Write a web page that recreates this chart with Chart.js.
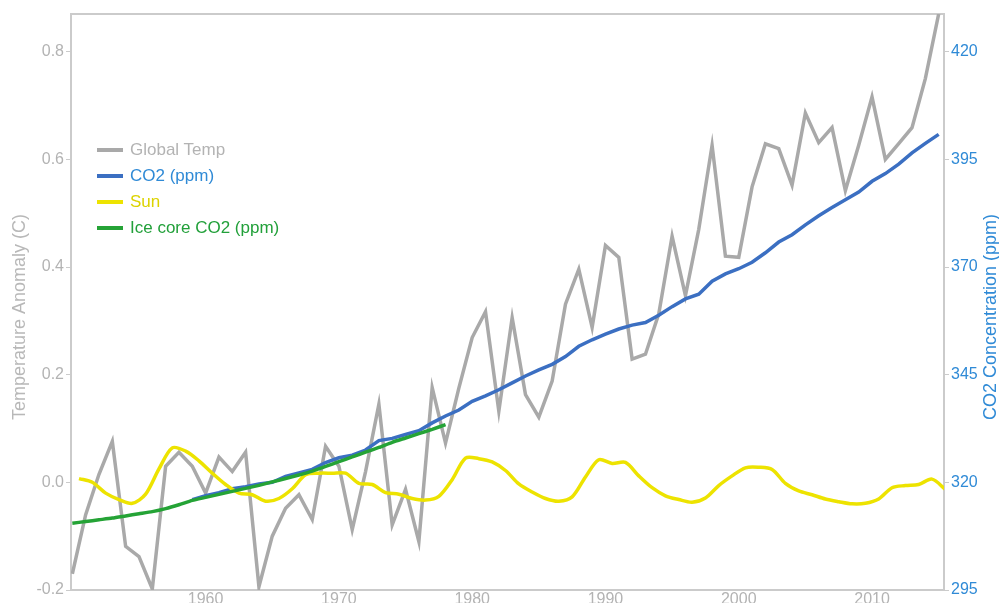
<!DOCTYPE html>
<html>
<head>
<meta charset="utf-8">
<script src="https://cdn.jsdelivr.net/npm/chart.js@4.4.1/dist/chart.umd.min.js"></script>
<style>
html,body{margin:0;padding:0;background:#fff;}
#wrap{position:relative;width:999px;height:603px;overflow:hidden;}
#legend{position:absolute;left:97px;top:137px;font-family:"Liberation Sans",Arial,Helvetica,sans-serif;font-size:17px;line-height:26px;}
.row{height:26px;display:flex;align-items:center;white-space:nowrap;}
.sw{width:26px;height:4px;margin-right:7px;}
</style>
</head>
<body>
<div id="wrap">
<canvas id="c" width="999" height="603"></canvas>
<div id="legend"></div>
</div>
<script>
// ---- data ----
const years = [1950,1951,1952,1953,1954,1955,1956,1957,1958,1959,
  1960,1961,1962,1963,1964,1965,1966,1967,1968,1969,
  1970,1971,1972,1973,1974,1975,1976,1977,1978,1979,
  1980,1981,1982,1983,1984,1985,1986,1987,1988,1989,
  1990,1991,1992,1993,1994,1995,1996,1997,1998,1999,
  2000,2001,2002,2003,2004,2005,2006,2007,2008,2009,
  2010,2011,2012,2013,2014,2015];

const globalTemp = [-0.17,-0.06,0.015,0.076,-0.119,-0.138,-0.198,0.03,0.056,0.03,
  -0.02,0.047,0.02,0.056,-0.194,-0.1,-0.048,-0.023,-0.069,0.067,
  0.03,-0.088,0.02,0.145,-0.079,-0.013,-0.11,0.176,0.073,0.175,
  0.269,0.317,0.132,0.306,0.163,0.121,0.188,0.331,0.396,0.288,
  0.44,0.418,0.229,0.238,0.313,0.457,0.347,0.47,0.626,0.42,
  0.418,0.549,0.629,0.62,0.552,0.686,0.631,0.659,0.542,0.626,
  0.716,0.6,0.629,0.659,0.75,0.87];

const co2 = [null,null,null,null,null,null,null,null,null,316.0,
  316.9,317.6,318.5,319.0,319.6,320.0,321.4,322.2,323.0,324.6,
  325.7,326.3,327.5,329.7,330.2,331.1,332.0,333.8,335.4,336.8,
  338.8,340.1,341.5,343.1,344.7,346.1,347.4,349.2,351.6,353.1,
  354.4,355.6,356.5,357.1,358.8,360.8,362.6,363.7,366.7,368.4,
  369.6,371.1,373.3,375.8,377.5,379.8,381.9,383.8,385.6,387.4,
  389.9,391.7,393.9,396.5,398.7,400.8];

const iceCore = [310.5,310.9,311.3,311.7,312.2,312.7,313.2,313.9,314.8,315.8,
  316.5,317.2,317.9,318.6,319.3,320.1,320.9,321.7,322.6,323.7,
  324.8,325.9,327.0,328.1,329.3,330.3,331.3,332.3,333.4];

const sunYears = [1950.5,1951.5,1952.5,1953.5,1954.5,1955.5,1956.5,1957.5,1958.5,1959.5,
  1960.5,1961.5,1962.5,1963.5,1964.5,1965.5,1966.5,1967.5,1968.5,1969.5,
  1970.5,1971.5,1972.5,1973.5,1974.5,1975.5,1976.5,1977.5,1978.5,1979.5,
  1980.5,1981.5,1982.5,1983.5,1984.5,1985.5,1986.5,1987.5,1988.5,1989.5,
  1990.5,1991.5,1992.5,1993.5,1994.5,1995.5,1996.5,1997.5,1998.5,1999.5,
  2000.5,2001.5,2002.5,2003.5,2004.5,2005.5,2006.5,2007.5,2008.5,2009.5,
  2010.5,2011.5,2012.5,2013.5,2014.5,2015.5];

const sun = [0.007,0.0,-0.02,-0.032,-0.039,-0.022,0.025,0.064,0.058,0.04,
  0.017,-0.004,-0.02,-0.023,-0.035,-0.03,-0.012,0.014,0.017,0.017,
  0.017,-0.002,-0.004,-0.019,-0.022,-0.03,-0.033,-0.026,0.005,0.045,
  0.044,0.038,0.022,-0.003,-0.018,-0.03,-0.035,-0.027,0.01,0.042,
  0.035,0.037,0.012,-0.01,-0.025,-0.032,-0.037,-0.029,-0.006,0.012,
  0.027,0.028,0.024,-0.002,-0.016,-0.023,-0.031,-0.036,-0.04,-0.039,
  -0.031,-0.01,-0.006,-0.004,0.006,-0.013];

const xTicks = [1960,1970,1980,1990,2000,2010];
const tempTicks = [-0.2,0.0,0.2,0.4,0.6,0.8];
const co2Ticks = [295,320,345,370,395,420];

const seriesLabels = ['Global Temp','CO2 (ppm)','Sun','Ice core CO2 (ppm)'];
const lineColors = ['#a9a9a9','#3b6fc2','#ede300','#25a336'];
const textColors = ['#b3b3b3','#2f8ad6','#dcd300','#22a03a'];
const axisTitles = ['Temperature Anomaly (C)','CO2 Concentration (ppm)'];
const axisTitleColors = ['#b8b8b8','#2f8ad6'];

// ---- chart ----
const F = '"Liberation Sans", Arial, Helvetica, sans-serif';
const border = {display:true,color:'#cbcbcb',width:2};

function pts(xs, ys){ return xs.map((x,i)=>({x:x,y:ys[i]===undefined?null:ys[i]})); }

// both axis titles read bottom-to-top, as in the reference
const axisTitlePlugin = {
  id:'axisTitles',
  afterDraw(c){
    const ctx = c.ctx, ca = c.chartArea;
    const cy = (ca.top + ca.bottom)/2 + 15;
    const xs = [20, 991];
    ctx.save();
    ctx.font = '18px ' + F;
    ctx.textAlign = 'center';
    ctx.textBaseline = 'middle';
    axisTitles.forEach((t,i)=>{
      ctx.save();
      ctx.translate(xs[i], cy);
      ctx.rotate(-Math.PI/2);
      ctx.fillStyle = axisTitleColors[i];
      ctx.fillText(t, 0, 0);
      ctx.restore();
    });
    ctx.restore();
  }
};

const chart = new Chart(document.getElementById('c'), {
  type:'line',
  data:{
    datasets:[
      {label:seriesLabels[0],data:pts(years,globalTemp),yAxisID:'yT',borderColor:lineColors[0],borderWidth:3.5,pointRadius:0,tension:0,order:4},
      {label:seriesLabels[1],data:pts(years,co2),yAxisID:'yC',borderColor:lineColors[1],borderWidth:3.5,pointRadius:0,tension:0,order:3},
      {label:seriesLabels[2],data:pts(sunYears,sun),yAxisID:'yT',borderColor:lineColors[2],borderWidth:3.5,pointRadius:0,tension:0.3,order:2},
      {label:seriesLabels[3],data:pts(years.slice(0,iceCore.length),iceCore),yAxisID:'yC',borderColor:lineColors[3],borderWidth:3.5,pointRadius:0,tension:0.2,order:1}
    ]
  },
  options:{
    responsive:false,
    animation:false,
    events:[],
    layout:{padding:{top:14,left:0,right:0,bottom:0}},
    plugins:{legend:{display:false},tooltip:{enabled:false}},
    scales:{
      x:{type:'linear',position:'bottom',min:1949.9,max:2015.4,
        afterBuildTicks:s=>{s.ticks=xTicks.map(v=>({value:v}));},
        afterFit:s=>{s.height=13;},
        grid:{display:false,drawTicks:false},
        border:border,
        ticks:{color:'#b3b3b3',font:{size:16,family:F},padding:0,maxRotation:0,autoSkip:false,callback:v=>String(v)}
      },
      xTop:{type:'linear',position:'top',min:1949.9,max:2015.4,
        afterFit:s=>{s.height=0;},
        grid:{display:false,drawTicks:false},
        border:border,
        ticks:{display:false}
      },
      yT:{type:'linear',position:'left',min:-0.2,max:0.87,
        afterBuildTicks:s=>{s.ticks=tempTicks.map(v=>({value:v}));},
        afterFit:s=>{s.width=71;},
        grid:{display:true,drawOnChartArea:false,drawTicks:true,tickLength:5,color:'#cbcbcb',lineWidth:1},
        border:border,
        ticks:{color:'#b3b3b3',font:{size:16,family:F},padding:2,autoSkip:false,callback:v=>v.toFixed(1)},
        title:{display:false}
      },
      yC:{type:'linear',position:'right',min:295,max:428.75,
        afterBuildTicks:s=>{s.ticks=co2Ticks.map(v=>({value:v}));},
        afterFit:s=>{s.width=55;},
        grid:{display:true,drawOnChartArea:false,drawTicks:true,tickLength:5,color:'#cbcbcb',lineWidth:1},
        border:border,
        ticks:{color:'#2f8ad6',font:{size:16,family:F},padding:2,autoSkip:false,callback:v=>String(v)},
        title:{display:false}
      }
    }
  },
  plugins:[axisTitlePlugin]
});

// ---- legend (HTML) ----
const lg = document.getElementById('legend');
seriesLabels.forEach((t,i)=>{
  const r = document.createElement('div'); r.className='row';
  const s = document.createElement('div'); s.className='sw'; s.style.background=lineColors[i];
  const l = document.createElement('span'); l.textContent=t; l.style.color=textColors[i];
  r.appendChild(s); r.appendChild(l); lg.appendChild(r);
});
</script>
</body>
</html>
